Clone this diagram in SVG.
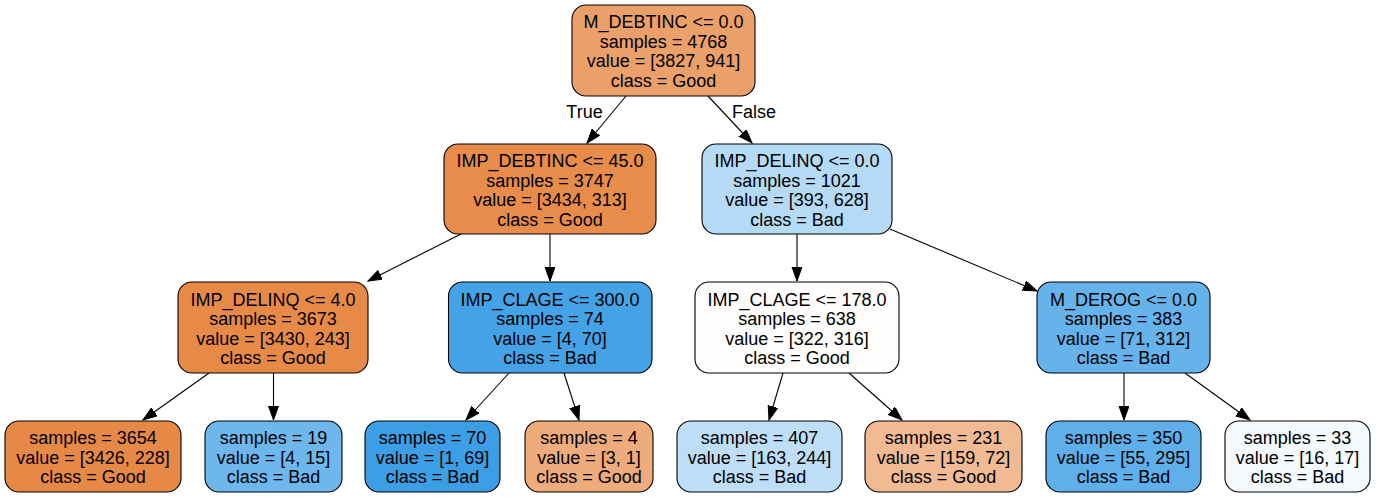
<svg xmlns="http://www.w3.org/2000/svg" width="1376" height="497" viewBox="0 0 1376 497">
<style>
.n{stroke:#000;stroke-width:1.1}
text{font-family:"Liberation Sans",Arial,Helvetica,sans-serif;font-size:18px;fill:#000;text-anchor:middle}
.e{stroke:#000;stroke-width:1.1;fill:none;marker-end:url(#ah)}
</style>
<defs>
<marker id="ah" markerUnits="userSpaceOnUse" markerWidth="15" markerHeight="11" refX="14" refY="5" orient="auto">
<path d="M0,0 L14,5 L0,10 z" fill="#000" stroke="#000" stroke-width="1"/>
</marker>
</defs>
<rect width="1376" height="497" fill="#fff"/>
<g id="edges">
<line class="e" x1="626" y1="96" x2="587" y2="143"/>
<line class="e" x1="708" y1="96" x2="752" y2="143"/>
<line class="e" x1="461" y1="234" x2="368" y2="281"/>
<line class="e" x1="550" y1="234" x2="550" y2="281"/>
<line class="e" x1="797" y1="234" x2="797" y2="281"/>
<line class="e" x1="890" y1="229" x2="1037" y2="291"/>
<line class="e" x1="209" y1="373" x2="143" y2="420"/>
<line class="e" x1="273.5" y1="373" x2="273.5" y2="420"/>
<line class="e" x1="509" y1="373" x2="466" y2="420"/>
<line class="e" x1="564" y1="373" x2="579" y2="420"/>
<line class="e" x1="783" y1="373" x2="769" y2="420"/>
<line class="e" x1="849" y1="373" x2="902" y2="420"/>
<line class="e" x1="1124" y1="373" x2="1124" y2="420"/>
<line class="e" x1="1185" y1="373" x2="1250" y2="420"/>
<text x="584.5" y="117.5">True</text>
<text x="754" y="117.5">False</text>
</g>
<g id="n0"><rect class="n" x="572" y="5" width="183" height="91" rx="14" fill="#eba06a"/>
<text x="663.5" y="28">M_DEBTINC &lt;= 0.0</text><text x="663.5" y="47.6">samples = 4768</text><text x="663.5" y="67.2">value = [3827, 941]</text><text x="663.5" y="86.8">class = Good</text></g>
<g id="n1"><rect class="n" x="444" y="144" width="212" height="90" rx="14" fill="#e78c4b"/>
<text x="550" y="167">IMP_DEBTINC &lt;= 45.0</text><text x="550" y="186.6">samples = 3747</text><text x="550" y="206.2">value = [3434, 313]</text><text x="550" y="225.8">class = Good</text></g>
<g id="n2"><rect class="n" x="702" y="144" width="190" height="90" rx="14" fill="#b5daf5"/>
<text x="797" y="167">IMP_DELINQ &lt;= 0.0</text><text x="797" y="186.6">samples = 1021</text><text x="797" y="206.2">value = [393, 628]</text><text x="797" y="225.8">class = Bad</text></g>
<g id="n3"><rect class="n" x="178" y="282" width="190" height="91" rx="14" fill="#e78a47"/>
<text x="273" y="305.5">IMP_DELINQ &lt;= 4.0</text><text x="273" y="325.1">samples = 3673</text><text x="273" y="344.7">value = [3430, 243]</text><text x="273" y="364.3">class = Good</text></g>
<g id="n4"><rect class="n" x="448.5" y="282" width="203.5" height="91" rx="14" fill="#44a3e6"/>
<text x="550" y="305.5">IMP_CLAGE &lt;= 300.0</text><text x="550" y="325.1">samples = 74</text><text x="550" y="344.7">value = [4, 70]</text><text x="550" y="364.3">class = Bad</text></g>
<g id="n5"><rect class="n" x="695" y="282" width="204" height="91" rx="14" fill="#fffdfb"/>
<text x="797" y="305.5">IMP_CLAGE &lt;= 178.0</text><text x="797" y="325.1">samples = 638</text><text x="797" y="344.7">value = [322, 316]</text><text x="797" y="364.3">class = Good</text></g>
<g id="n6"><rect class="n" x="1037" y="282" width="173" height="91" rx="14" fill="#66b3eb"/>
<text x="1123.5" y="305.5">M_DEROG &lt;= 0.0</text><text x="1123.5" y="325.1">samples = 383</text><text x="1123.5" y="344.7">value = [71, 312]</text><text x="1123.5" y="364.3">class = Bad</text></g>
<g id="l1"><rect class="n" x="5" y="421" width="176" height="71" rx="14" fill="#e78946"/>
<text x="93" y="444">samples = 3654</text><text x="93" y="463.6">value = [3426, 228]</text><text x="93" y="483.2">class = Good</text></g>
<g id="l2"><rect class="n" x="205" y="421" width="137" height="71" rx="14" fill="#6eb7ec"/>
<text x="273.5" y="444">samples = 19</text><text x="273.5" y="463.6">value = [4, 15]</text><text x="273.5" y="483.2">class = Bad</text></g>
<g id="l3"><rect class="n" x="365" y="421" width="135" height="71" rx="14" fill="#3c9ee5"/>
<text x="432.5" y="444">samples = 70</text><text x="432.5" y="463.6">value = [1, 69]</text><text x="432.5" y="483.2">class = Bad</text></g>
<g id="l4"><rect class="n" x="525" y="421" width="128" height="71" rx="14" fill="#eeab7b"/>
<text x="589" y="444">samples = 4</text><text x="589" y="463.6">value = [3, 1]</text><text x="589" y="483.2">class = Good</text></g>
<g id="l5"><rect class="n" x="677" y="421" width="165" height="71" rx="14" fill="#bddef6"/>
<text x="759.5" y="444">samples = 407</text><text x="759.5" y="463.6">value = [163, 244]</text><text x="759.5" y="483.2">class = Bad</text></g>
<g id="l6"><rect class="n" x="865" y="421" width="157" height="71" rx="14" fill="#f1ba93"/>
<text x="943.5" y="444">samples = 231</text><text x="943.5" y="463.6">value = [159, 72]</text><text x="943.5" y="483.2">class = Good</text></g>
<g id="l7"><rect class="n" x="1046" y="421" width="155" height="71" rx="14" fill="#5eafea"/>
<text x="1123.5" y="444">samples = 350</text><text x="1123.5" y="463.6">value = [55, 295]</text><text x="1123.5" y="483.2">class = Bad</text></g>
<g id="l8"><rect class="n" x="1225" y="421" width="145" height="71" rx="14" fill="#f3f9fd"/>
<text x="1297.5" y="444">samples = 33</text><text x="1297.5" y="463.6">value = [16, 17]</text><text x="1297.5" y="483.2">class = Bad</text></g>
</svg>
